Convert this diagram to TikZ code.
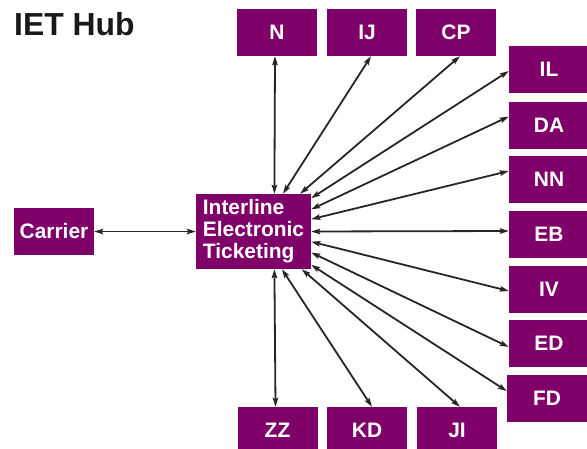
\documentclass[tikz,border=0pt]{standalone}
\usepackage{fontspec}
\setmainfont{Liberation Sans}
\usetikzlibrary{arrows.meta}
\definecolor{iet-purple}{RGB}{128,0,106}
\colorlet{link}{black!85}

\begin{document}
\begin{tikzpicture}[x=1bp,y=-1bp,
	box/.style={fill=iet-purple,text=white,font=\bfseries\fontsize{21}{22}\selectfont,minimum width=80bp,minimum height=47bp,inner sep=0pt},
	biarrow/.style={draw=link,line width=1.8bp,{Stealth[length=9bp,width=5.5bp,inset=1.5bp]}-{Stealth[length=9bp,width=5.5bp,inset=1.5bp]}}]
	\useasboundingbox (0,0) rectangle (587,449);
	\node[anchor=base west,font=\bfseries\fontsize{32}{32}\selectfont,text=black!90,inner sep=0pt] (title) at (14,36) {IET Hub};
	\node[box,minimum width=115bp,minimum height=75bp,align=left] (hub) at (253.5,231.5) {Interline\\Electronic\\Ticketing};
	\node[box] (carrier) at (54,231.5) {Carrier};
	% top row
	\foreach \name/\x in {N/277,IJ/367,CP/456}
		\node[box] (\name) at (\x,32.5) {\name};
	% bottom row
	\foreach \name/\x in {ZZ/277.5,KD/367,JI/457}
		\node[box] (\name) at (\x,430.5) {\name};
	% right column
	\foreach \name/\x/\y in {IL/549/69.5,DA/549/125.5,NN/549/179.5,EB/549/234.5,IV/549/289.5,ED/549/343.5,FD/547/398.5}
		\node[box] (\name) at (\x,\y) {\name};
	% links
	\draw[biarrow] (carrier) -- (hub);
	\foreach \name/\ang/\dx in {N/61/-2,IJ/52/4,CP/39/4}
		\draw[biarrow] (hub.\ang) -- ([xshift=\dx]\name.south);
	\foreach \name/\ang/\dy in {IL/30/-1.5,DA/21/9,NN/12/8.5,EB/0/3.5,IV/-10/-1.5,ED/-20/-3.5,FD/-30/7.5}
		\draw[biarrow] (hub.\ang) -- ([yshift=\dy]\name.west);
	\foreach \name/\ang/\dx in {ZZ/-61/-2,KD/-53/5,JI/-38/3}
		\draw[biarrow] (hub.\ang) -- ([xshift=\dx]\name.north);
\end{tikzpicture}
\end{document}
